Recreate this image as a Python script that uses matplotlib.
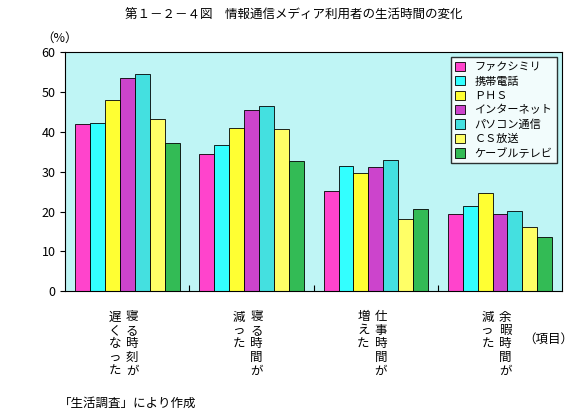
import matplotlib
matplotlib.use("Agg")
import matplotlib.pyplot as plt
import numpy as np

plt.rcParams['font.family'] = ['Noto Sans CJK JP', 'DejaVu Sans']

series = ["ファクシミリ", "携帯電話", "ＰＨＳ", "インターネット", "パソコン通信", "ＣＳ放送", "ケーブルテレビ"]
colors = ["#ff44cc", "#33ffff", "#ffff33", "#cc44cc", "#44e0e0", "#ffff66", "#33bb55"]
cat_col1 = ["寝る時刻が", "寝る時間が", "仕事時間が", "余暇時間が"]
cat_col2 = ["遅くなった", "減った", "増えた", "減った"]
values = [
    [42.0, 34.5, 25.2, 19.5],
    [42.3, 36.7, 31.4, 21.5],
    [48.0, 41.0, 29.6, 24.7],
    [53.5, 45.5, 31.2, 19.5],
    [54.5, 46.4, 32.9, 20.2],
    [43.3, 40.7, 18.2, 16.0],
    [37.2, 32.7, 20.7, 13.5],
]

fig = plt.figure(figsize=(5.88, 4.15), dpi=100)
ax = fig.add_axes([0.111, 0.298, 0.845, 0.577])
ax.set_facecolor("#bff5f5")
x = np.arange(4)
w = 0.12
for i, (s, c, v) in enumerate(zip(series, colors, values)):
    ax.bar(x + (i - 3) * w, v, w, color=c, edgecolor="black", linewidth=0.6, label=s)
ax.set_xlim(-0.5, 3.5)
ax.set_ylim(0, 60)
ax.set_yticks(range(0, 61, 10))
ax.tick_params(labelsize=9)
ax.set_xticks([0.5, 1.5, 2.5])
ax.set_xticklabels([])
ax.tick_params(axis='x', direction='in', length=4)
for i in range(4):
    ax.text(i + 0.04, -0.08, "\n".join(cat_col1[i]), transform=ax.get_xaxis_transform(),
            ha='center', va='top', fontsize=9, linespacing=1.05)
    ax.text(i - 0.1, -0.08, "\n".join(cat_col2[i]), transform=ax.get_xaxis_transform(),
            ha='center', va='top', fontsize=9, linespacing=1.05)
fig.text(0.89, 0.175, "（項目）", fontsize=9)
fig.text(0.07, 0.9, "（%）", fontsize=9)
fig.text(0.5, 0.955, "第１－２－４図　情報通信メディア利用者の生活時間の変化", ha='center', fontsize=9)
fig.text(0.1, 0.02, "「生活調査」により作成", fontsize=9)
leg = ax.legend(loc='upper right', fontsize=8, frameon=True, fancybox=False,
                edgecolor='black', handlelength=0.9, handleheight=0.9, borderpad=0.4, labelspacing=0.35)
leg.get_frame().set_facecolor("white")
fig.savefig("out.png", dpi=100)
